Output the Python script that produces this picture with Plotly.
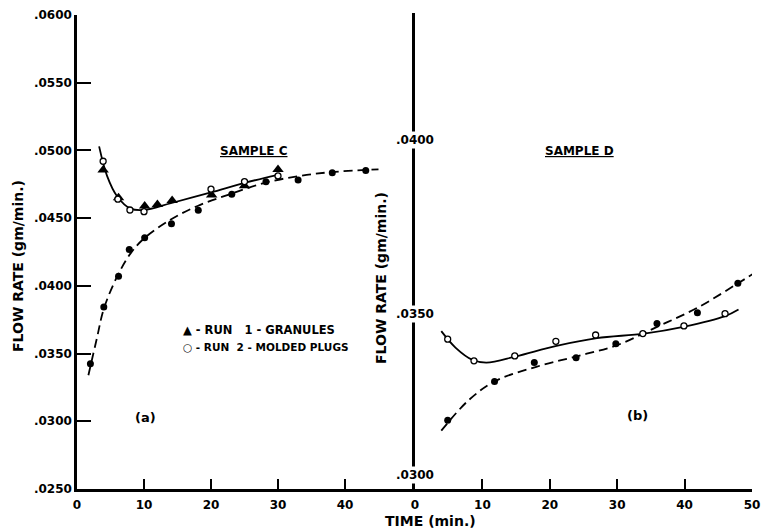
import plotly.graph_objects as go

# ---------------- data ----------------
# Sample C (panel a)
c_run1_t = [3.9, 6.2, 10.1, 12.0, 14.2, 20.1, 25.0, 30.0]
c_run1_v = [0.04855, 0.0465, 0.0459, 0.0460, 0.0463, 0.0467, 0.0474, 0.0486]
c_run2_t = [3.9, 6.1, 7.9, 10.0, 20.0, 25.0, 30.0]
c_run2_v = [0.0492, 0.0464, 0.0456, 0.04548, 0.04714, 0.0477, 0.04812]
c_filled_t = [2.0, 4.0, 6.2, 7.8, 10.1, 14.1, 18.1, 23.1, 28.2, 33.0, 38.1, 43.1]
c_filled_v = [0.03424, 0.03843, 0.04071, 0.04269, 0.04355, 0.04459, 0.04558,
              0.04676, 0.04768, 0.04782, 0.04836, 0.04851]
# hand-drawn fitted curves, Sample C
c_solid_t = [3.3, 4.5, 6.0, 8.0, 10.0, 14.0, 20.0, 25.0, 30.0]
c_solid_v = [0.0503, 0.0481, 0.0466, 0.0457, 0.0456, 0.0461, 0.0469, 0.0476, 0.0482]
c_dash_t = [1.7, 3.0, 4.0, 6.0, 8.0, 10.0, 14.0, 18.0, 23.0, 28.0, 33.0, 38.0, 45.0]
c_dash_v = [0.0334, 0.0362, 0.0383, 0.0407, 0.0424, 0.0435, 0.0449, 0.0459,
            0.0468, 0.0476, 0.0481, 0.0484, 0.0486]

# Sample D (panel b)
d_open_t = [4.85, 8.75, 14.8, 20.9, 26.8, 33.8, 39.9, 46.0]
d_open_v = [0.03429, 0.03367, 0.03381, 0.03423, 0.03441, 0.03445, 0.03467, 0.03502]
d_filled_t = [4.85, 11.8, 17.7, 23.9, 29.8, 35.9, 41.9, 47.9]
d_filled_v = [0.03197, 0.03308, 0.03362, 0.03376, 0.03416, 0.03474, 0.03505, 0.03589]
d_solid_t = [3.9, 6.0, 8.5, 10.6, 15.0, 21.0, 27.0, 34.0, 40.0, 46.0, 48.0]
d_solid_v = [0.03452, 0.03405, 0.03370, 0.03362, 0.03380, 0.03410, 0.03432,
             0.03445, 0.03465, 0.03495, 0.03514]
d_dash_t = [3.9, 8.0, 12.0, 18.0, 24.0, 30.0, 36.0, 42.0, 48.0, 50.4]
d_dash_v = [0.03167, 0.03255, 0.03310, 0.03350, 0.03380, 0.03412, 0.03465,
            0.03520, 0.03590, 0.03619]

# ticks
left_x_ticks = [0, 10, 20, 30, 40]
right_x_ticks = [0, 10, 20, 30, 40, 50]
left_y_ticks = [0.025, 0.030, 0.035, 0.040, 0.045, 0.050, 0.055, 0.060]
left_y_labels = [".0250", ".0300", ".0350", ".0400", ".0450", ".0500", ".0550", ".0600"]
right_y_ticks = [0.030, 0.035, 0.040]
right_y_labels = [".0300", ".0350", ".0400"]

# ---------------- figure ----------------
W, H = 762, 532
FONT = "DejaVu Sans"
fig = go.Figure()

def line(x, y, dash, xa, ya):
    fig.add_trace(go.Scatter(x=x, y=y, mode="lines", xaxis=xa, yaxis=ya,
                             line=dict(color="black", width=1.8, dash=dash, shape="spline", smoothing=1.0),
                             hoverinfo="skip", showlegend=False))

def pts(x, y, symbol, size, fill, xa, ya, lw=0):
    fig.add_trace(go.Scatter(x=x, y=y, mode="markers", xaxis=xa, yaxis=ya,
                             marker=dict(symbol=symbol, size=size, color=fill,
                                         line=dict(color="black", width=lw)),
                             showlegend=False))

DASH = "9px,5px"
line(c_solid_t, c_solid_v, "solid", "x", "y")
line(c_dash_t, c_dash_v, DASH, "x", "y")
pts(c_filled_t, c_filled_v, "circle", 7, "black", "x", "y")
pts(c_run1_t, c_run1_v, "triangle-up", 10, "black", "x", "y")
pts(c_run2_t, c_run2_v, "circle", 6, "white", "x", "y", lw=1.3)

line(d_solid_t, d_solid_v, "solid", "x2", "y2")
line(d_dash_t, d_dash_v, DASH, "x2", "y2")
pts(d_filled_t, d_filled_v, "circle", 7, "black", "x2", "y2")
pts(d_open_t, d_open_v, "circle", 6, "white", "x2", "y2", lw=1.3)

def px_x(p): return p / W
def px_y(p): return 1 - p / H

x_left, x_mid, x_right = 77, 415, 752
y_base, y_top_l, y_top_r = 489, 15, 13
tickfont = dict(family=FONT, size=12, color="black", weight="bold")

axis_common = dict(showline=True, linecolor="black", linewidth=2.5, showgrid=False,
                   zeroline=False, ticks="inside", tickcolor="black", tickwidth=2,
                   tickfont=tickfont, automargin=False)

fig.update_layout(
    width=W, height=H, margin=dict(l=0, r=0, t=0, b=0, pad=0, autoexpand=False),
    paper_bgcolor="white", plot_bgcolor="white", showlegend=False,
    xaxis=dict(axis_common, domain=[px_x(x_left), px_x(x_mid)],
               range=[0, (x_mid - x_left) / 6.7], tickvals=left_x_ticks, ticklen=10,
               anchor="y", ticklabelstandoff=3),
    yaxis=dict(axis_common, domain=[px_y(y_base), px_y(y_top_l)],
               range=[0.025, 0.060], tickvals=left_y_ticks, ticktext=left_y_labels,
               ticklen=14, anchor="x"),
    xaxis2=dict(axis_common, domain=[px_x(x_mid), px_x(x_right)],
                range=[0, 50], tickvals=right_x_ticks, ticklen=10, anchor="y2",
                ticklabelstandoff=3),
    yaxis2=dict(showline=True, linecolor="black", linewidth=2.5, showgrid=False,
                zeroline=False, ticks="", showticklabels=False, anchor="x2",
                domain=[px_y(y_base), px_y(y_top_r)], automargin=False,
                range=[0.030, 0.030 + (y_base - y_top_r) / 34923]),
)

# right-panel y labels straddling the axis line
for v, lab in zip(right_y_ticks, right_y_labels):
    fig.add_annotation(x=0, y=v, xref="x2", yref="y2", text=lab, showarrow=False,
                       font=dict(family=FONT, size=12, color="black", weight="bold"),
                       bgcolor="white", borderpad=1,
                       yshift=14 if v == 0.030 else 0)

def note(text, x, y, size=12, angle=0, xanchor="center"):
    fig.add_annotation(x=px_x(x), y=px_y(y), xref="paper", yref="paper", text=text,
                       showarrow=False, textangle=angle, xanchor=xanchor, yanchor="middle",
                       font=dict(family=FONT, size=size, color="black", weight="bold"))

note("FLOW RATE (gm/min.)", 18, 266, size=14, angle=-90)
note("FLOW RATE (gm/min.)", 381, 278, size=14, angle=-90)
note("TIME (min.)", 430, 521, size=14)
note("<u>SAMPLE C</u>", 254, 151, size=12)
note("<u>SAMPLE D</u>", 579, 151, size=12)
note("(a)", 145, 417, size=13)
note("(b)", 637, 415, size=13)
note("▲ - RUN   1 - GRANULES", 181, 330, size=11.5, xanchor="left")
note("○ - RUN  2 - MOLDED PLUGS", 181, 347, size=10.5, xanchor="left")

fig.write_html("out.html")
